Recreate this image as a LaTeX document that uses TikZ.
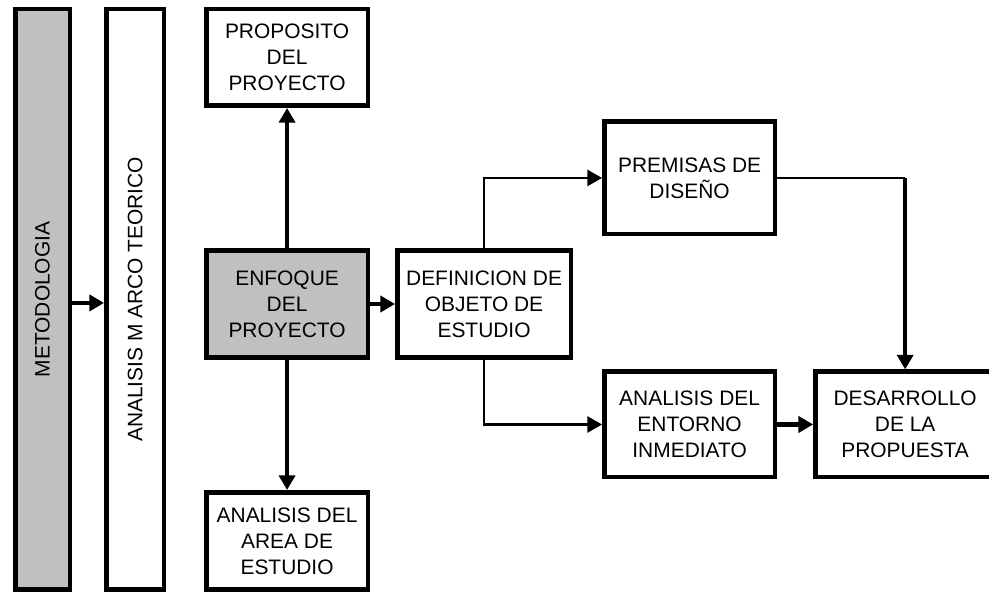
\documentclass[tikz,border=0pt]{standalone}
\usepackage{fontspec}
\setmainfont{Liberation Sans}
\usetikzlibrary{positioning,arrows.meta}
\definecolor{boxgray}{HTML}{C0C0C0}

\begin{document}
\begin{tikzpicture}[align=center,->,>={Triangle[length=11pt,width=12pt]},font=\fontsize{15.7}{19.5}\selectfont]
	\tikzstyle{block}=[draw,rectangle,line width=3.4pt,inner sep=0pt]
	\tikzstyle{sidebar}=[block,minimum width=40.9pt,minimum height=435.4pt]
	\tikzstyle{mainstep}=[block,minimum width=121.1pt]
	\tikzstyle{heavy}=[line width=3.2pt]
	\tikzstyle{light}=[line width=1.8pt]

	\useasboundingbox (0,0) rectangle (741.75pt,-444.75pt);

	\node[sidebar,fill=boxgray](metodologia) at (31.9pt,-224.6pt){\rotatebox{90}{METODOLOGIA}};
	\node[sidebar,minimum width=43.1pt,right=24pt of metodologia](marco_teorico){\rotatebox{90}{ANALISIS M ARCO TEORICO}};

	\node[mainstep,minimum height=72.4pt,below right=0pt and 28.5pt of marco_teorico.north east](proposito){PROPOSITO\\DEL\\PROYECTO};
	\node[mainstep,fill=boxgray,minimum height=80.6pt,below=105pt of proposito](enfoque){ENFOQUE\\DEL\\PROYECTO};
	\node[mainstep,minimum height=73.1pt,below=97.5pt of enfoque](area_estudio){ANALISIS DEL\\AREA DE\\ESTUDIO};

	\node[block,minimum width=130.1pt,minimum height=79.9pt,right=18.75pt of enfoque](objeto_estudio){DEFINICION DE\\OBJETO DE\\ESTUDIO};

	\node[block,minimum width=127.9pt,minimum height=84.4pt,above right=9pt and 21.75pt of objeto_estudio.north east](premisas){PREMISAS DE\\DISEÑO};
	\node[block,minimum width=127.9pt,minimum height=79.1pt,below=99.75pt of premisas](entorno){ANALISIS DEL\\ENTORNO\\INMEDIATO};
	\node[block,minimum width=134.6pt,minimum height=79.1pt,right=27pt of entorno](propuesta){DESARROLLO\\DE LA\\PROPUESTA};

	\coordinate(premisas_corner) at (propuesta.north |- premisas.east);

	\draw[heavy]([yshift=-2.6pt]metodologia.east) -- ([yshift=-2.6pt]metodologia.east -| marco_teorico.west);

	\draw[heavy](enfoque) -- (proposito);
	\draw[heavy](enfoque) -- (area_estudio);
	\draw[heavy](enfoque) -- (objeto_estudio);

	\draw[light](objeto_estudio.north) |- (premisas.west);
	\draw[light](objeto_estudio.south) |- (entorno.west);

	\draw[light,-](premisas.east) -- (premisas_corner);
	\draw[heavy](premisas_corner) -- (propuesta.north);
	\draw[heavy](entorno) -- (propuesta);
\end{tikzpicture}
\end{document}
